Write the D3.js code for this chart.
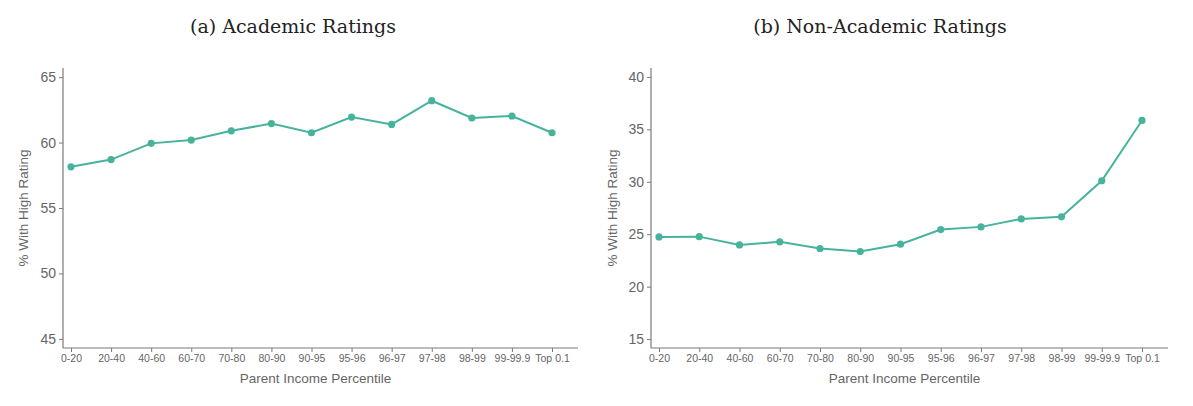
<!DOCTYPE html>
<html>
<head>
<meta charset="utf-8">
<script src="https://cdn.jsdelivr.net/npm/d3@7"></script>
<style>
  body { margin: 0; background: #fff; }
  text { font-family: "Liberation Sans", Arial, sans-serif; }
</style>
</head>
<body>
<div id="chart"></div>
<script>
// categories + series
var percentiles = ["0-20","20-40","40-60","60-70","70-80","80-90","90-95","95-96","96-97","97-98","98-99","99-99.9","Top 0.1"];
var academic = [58.15, 58.7, 59.94, 60.19, 60.9, 61.45, 60.75, 61.95, 61.39, 63.2, 61.88, 62.03, 60.75];
var nonAcademic = [24.74, 24.77, 23.98, 24.27, 23.64, 23.35, 24.05, 25.44, 25.7, 26.46, 26.66, 30.1, 35.85];
var academicTicks = [45, 50, 55, 60, 65];
var nonAcademicTicks = [15, 20, 25, 30, 35, 40];

var W = 1193, H = 406;
var lineColor = "#47b39c", axisColor = "#7a7a7a", textColor = "#666";

var svg = d3.select("#chart").append("svg")
  .attr("width", W).attr("height", H);

var panels = [
  { title: "(a)  Academic Ratings", values: academic, ticks: academicTicks,
    left: 63, right: 578, yDomain: [44.3, 65.7], titleX: 293, labelX: 23 },
  { title: "(b) Non-Academic Ratings", values: nonAcademic, ticks: nonAcademicTicks,
    left: 651, right: 1168, yDomain: [14.15, 40.85], titleX: 880, labelX: 612 }
];

var plotTop = 68, plotBottom = 348;

panels.forEach(function(p) {
  var g = svg.append("g");

  var x = d3.scalePoint()
    .domain(percentiles)
    .range([p.left + 8, p.right - 26]);

  var y = d3.scaleLinear()
    .domain(p.yDomain)
    .range([plotBottom, plotTop]);

  // title
  svg.append("text")
    .attr("x", p.titleX).attr("y", 33)
    .attr("text-anchor", "middle")
    .style("font-family", "'DejaVu Serif', 'Liberation Serif', serif")
    .style("font-size", "19px")
    .attr("fill", "#222")
    .text(p.title);

  // y axis
  var yAxis = d3.axisLeft(y).tickValues(p.ticks).tickSize(4).tickPadding(3);
  var ya = g.append("g").attr("transform", "translate(" + p.left + ",0)").call(yAxis);
  ya.select(".domain").remove();
  ya.selectAll("line").attr("stroke", axisColor);
  ya.selectAll("text").attr("fill", textColor).style("font-size", "14px");

  // x axis
  var xAxis = d3.axisBottom(x).tickSize(4).tickPadding(3);
  var xa = g.append("g").attr("transform", "translate(0," + plotBottom + ")").call(xAxis);
  xa.select(".domain").remove();
  xa.selectAll("line").attr("stroke", axisColor);
  xa.selectAll("text").attr("fill", textColor).style("font-size", "10.5px");

  // axis lines
  g.append("line")
    .attr("x1", p.left).attr("x2", p.left)
    .attr("y1", plotTop).attr("y2", plotBottom)
    .attr("stroke", axisColor).attr("stroke-width", 1.2);
  g.append("line")
    .attr("x1", p.left).attr("x2", p.right)
    .attr("y1", plotBottom).attr("y2", plotBottom)
    .attr("stroke", axisColor).attr("stroke-width", 1.2);

  // axis titles
  g.append("text")
    .attr("x", (p.left + p.right) / 2 - 5).attr("y", 383)
    .attr("text-anchor", "middle")
    .attr("fill", textColor).style("font-size", "13.5px")
    .text("Parent Income Percentile");

  g.append("text")
    .attr("transform", "translate(" + p.labelX + "," + ((plotTop + plotBottom) / 2) + ") rotate(-90)")
    .attr("dy", "0.35em")
    .attr("text-anchor", "middle")
    .attr("fill", textColor).style("font-size", "13.5px")
    .text("% With High Rating");

  // line
  var line = d3.line()
    .x(function(d, i) { return x(percentiles[i]); })
    .y(function(d) { return y(d); });

  g.append("path")
    .datum(p.values)
    .attr("d", line)
    .attr("fill", "none")
    .attr("stroke", lineColor)
    .attr("stroke-width", 2);

  g.selectAll("circle")
    .data(p.values)
    .enter()
    .append("circle")
    .attr("cx", function(d, i) { return x(percentiles[i]); })
    .attr("cy", function(d) { return y(d); })
    .attr("r", 3.6)
    .attr("fill", lineColor);
});
</script>
</body>
</html>
